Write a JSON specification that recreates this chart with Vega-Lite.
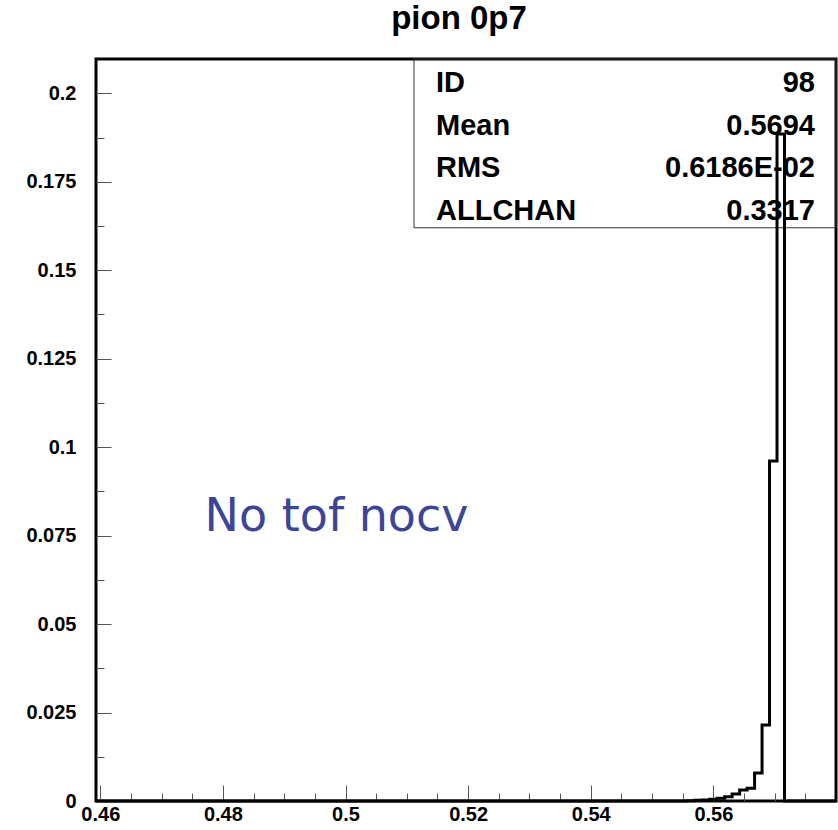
{
  "$schema": "https://vega.github.io/schema/vega-lite/v6.json",
  "width": 740,
  "height": 742,
  "autosize": {"type": "none"},
  "padding": {"left": 96, "top": 59, "right": 2, "bottom": 29},
  "background": "white",
  "title": {
    "text": "pion 0p7",
    "font": "Liberation Sans",
    "fontSize": 33,
    "fontWeight": "bold",
    "color": "black",
    "anchor": "middle",
    "frame": "group",
    "baseline": "alphabetic",
    "offset": -3,
    "dx": -7
  },
  "config": {
    "view": {"stroke": "black", "strokeWidth": 3},
    "axis": {
      "domain": false,
      "grid": false,
      "title": null,
      "labelFont": "Liberation Sans",
      "labelFontWeight": "bold",
      "labelFontSize": 20,
      "labelColor": "black",
      "tickColor": "#555555",
      "tickWidth": 1
    }
  },
  "datasets": {
    "hist": [
      {"x": 0.4593, "y": 0},
      {"x": 0.55574, "y": 0.0001},
      {"x": 0.55696, "y": 0.0002},
      {"x": 0.55818, "y": 0.0003},
      {"x": 0.5594, "y": 0.0005},
      {"x": 0.56062, "y": 0.0008},
      {"x": 0.56184, "y": 0.0012},
      {"x": 0.56306, "y": 0.002},
      {"x": 0.56428, "y": 0.0031},
      {"x": 0.5655, "y": 0.0036},
      {"x": 0.56672, "y": 0.0079},
      {"x": 0.56794, "y": 0.0215},
      {"x": 0.56916, "y": 0.0961},
      {"x": 0.57038, "y": 0.1885},
      {"x": 0.5716, "y": 0},
      {"x": 0.58, "y": 0}
    ],
    "stats": [
      {"stat": "ID", "value": "98"},
      {"stat": "Mean", "value": "0.5694"},
      {"stat": "RMS", "value": "0.6186E-02"},
      {"stat": "ALLCHAN", "value": "0.3317"}
    ],
    "note": [{"text": "No tof nocv"}]
  },
  "layer": [
    {
      "layer": [
        {
          "data": {"values": [{"box": "stats"}]},
          "mark": {"type": "rect", "fill": null, "fillOpacity": 0, "stroke": "#333333", "strokeWidth": 1},
          "encoding": {
            "x": {"datum": 0.51117, "type": "quantitative", "scale": {"domain": [0.4593, 0.58], "nice": false, "zero": false}, "axis": null},
            "x2": {"datum": 0.58},
            "y": {"datum": 0.162, "type": "quantitative", "scale": {"domain": [0, 0.2097], "nice": false, "zero": false}, "axis": null},
            "y2": {"datum": 0.2097}
          }
        },
        {
          "data": {"name": "hist"},
          "mark": {"type": "line", "interpolate": "step-after", "color": "black", "strokeWidth": 3, "strokeJoin": "miter"},
          "encoding": {
            "x": {
              "field": "x", "type": "quantitative",
              "scale": {"domain": [0.4593, 0.58], "nice": false, "zero": false},
              "axis": {"orient": "bottom", "values": [0.46, 0.48, 0.5, 0.52, 0.54, 0.56], "format": ".4~g", "ticks": false, "labelPadding": 3}
            },
            "y": {
              "field": "y", "type": "quantitative",
              "scale": {"domain": [0, 0.2097], "nice": false, "zero": false},
              "axis": {"orient": "left", "values": [0, 0.025, 0.05, 0.075, 0.1, 0.125, 0.15, 0.175, 0.2], "format": ".4~g", "ticks": false, "labelPadding": 20}
            }
          }
        },
        {
          "data": {"name": "hist"},
          "mark": {"type": "line", "opacity": 0},
          "encoding": {
            "x": {
              "field": "x", "type": "quantitative",
              "scale": {"domain": [0.4593, 0.58], "nice": false, "zero": false},
              "axis": {"orient": "bottom", "values": [0.46, 0.48, 0.5, 0.52, 0.54, 0.56], "labels": false, "tickSize": -16}
            },
            "y": {
              "field": "y", "type": "quantitative",
              "scale": {"domain": [0, 0.2097], "nice": false, "zero": false},
              "axis": {"orient": "left", "values": [0, 0.025, 0.05, 0.075, 0.1, 0.125, 0.15, 0.175, 0.2], "labels": false, "tickSize": -15}
            }
          }
        },
        {
          "data": {"name": "hist"},
          "mark": {"type": "line", "opacity": 0},
          "encoding": {
            "x": {
              "field": "x", "type": "quantitative",
              "scale": {"domain": [0.4593, 0.58], "nice": false, "zero": false},
              "axis": {"orient": "bottom", "values": [0.465, 0.47, 0.475, 0.485, 0.49, 0.495, 0.505, 0.51, 0.515, 0.525, 0.53, 0.535, 0.545, 0.55, 0.555, 0.565, 0.57, 0.575], "labels": false, "tickSize": -8}
            },
            "y": {
              "field": "y", "type": "quantitative",
              "scale": {"domain": [0, 0.2097], "nice": false, "zero": false},
              "axis": {"orient": "left", "values": [0.0125, 0.0375, 0.0625, 0.0875, 0.1125, 0.1375, 0.1625, 0.1875], "labels": false, "tickSize": -8}
            }
          }
        },
        {
          "data": {"name": "note"},
          "mark": {"type": "text", "font": "DejaVu Sans", "fontSize": 46, "color": "#3c4596", "align": "center", "baseline": "middle"},
          "encoding": {
            "x": {"datum": 0.49853, "type": "quantitative", "scale": {"domain": [0.4593, 0.58], "nice": false, "zero": false}, "axis": null},
            "y": {"datum": 0.0802, "type": "quantitative", "scale": {"domain": [0, 0.2097], "nice": false, "zero": false}, "axis": null},
            "text": {"field": "text"}
          }
        }
      ],
      "resolve": {"axis": {"x": "independent", "y": "independent"}}
    },
    {
      "data": {"name": "stats"},
      "layer": [
        {
          "mark": {"type": "text", "align": "left", "baseline": "middle", "font": "Liberation Sans", "fontWeight": "bold", "fontSize": 29, "color": "black"},
          "encoding": {
            "x": {"datum": 0.51476, "type": "quantitative", "scale": {"domain": [0.4593, 0.58], "nice": false, "zero": false}, "axis": null},
            "y": {"field": "stat", "type": "nominal", "sort": null, "scale": {"type": "point", "domain": ["ID", "Mean", "RMS", "ALLCHAN"], "range": [24, 152], "padding": 0}, "axis": null},
            "text": {"field": "stat"}
          }
        },
        {
          "mark": {"type": "text", "align": "right", "baseline": "middle", "font": "Liberation Sans", "fontWeight": "bold", "fontSize": 29, "color": "black"},
          "encoding": {
            "x": {"datum": 0.57657, "type": "quantitative", "scale": {"domain": [0.4593, 0.58], "nice": false, "zero": false}, "axis": null},
            "y": {"field": "stat", "type": "nominal", "sort": null, "scale": {"type": "point", "domain": ["ID", "Mean", "RMS", "ALLCHAN"], "range": [24, 152], "padding": 0}, "axis": null},
            "text": {"field": "value"}
          }
        }
      ]
    }
  ],
  "resolve": {"scale": {"y": "independent"}}
}
